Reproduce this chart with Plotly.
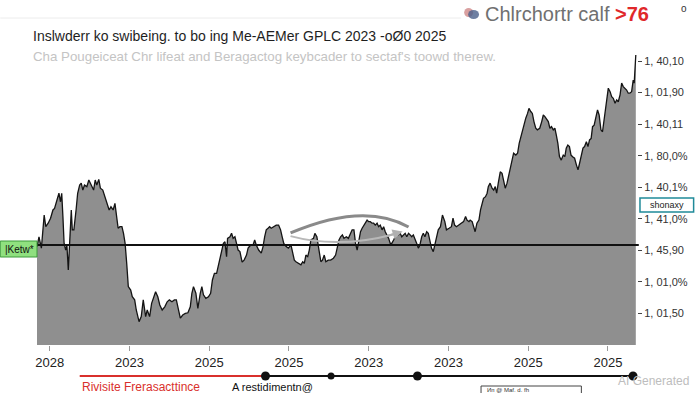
import plotly.graph_objects as go

# ---------------- data ----------------
x_ticks = [0, 20, 40, 60, 80, 100, 120, 140]
x_labels = ["2028", "2023", "2025", "2025", "2023", "2023", "2025", "2025"]
y_ticks = [10, 20, 30, 40, 50, 60, 70, 80, 90]
y_labels = ["1, 01,50", "1, 01,0%", "1, 45,90", "1, 41,0%", "1, 40,1%",
            "1, 80,0%", "1, 40,11", "1, 01,90", "1, 40,10"]
threshold = 31.7

x_vals = [-3.2, -2.7, -2.1, -1.7, -1.4, -1.0, -0.4, 0.2, 0.8, 1.2, 1.7, 2.1, 2.3, 2.7, 3.0, 3.3, 3.6, 4.0, 4.3, 4.65,
          5.0, 5.4, 5.65, 6.05, 6.6, 7.0, 7.5, 7.9, 8.3, 8.7, 9.3, 9.8, 10.4, 11.0, 11.4, 11.8, 12.3, 12.7, 13.3, 13.9,
          14.35, 14.9, 15.35, 15.9, 16.35, 16.75, 17.15, 17.6, 18.1, 18.5, 18.9, 19.3, 19.7, 20.3, 20.7, 21.3, 21.7, 22.4, 22.95, 23.45,
          24.05, 24.45, 25.05, 25.55, 26.1, 26.55, 27.1, 27.6, 28.2, 28.85, 29.45, 30.0, 30.65, 31.25, 31.75, 32.35, 32.75, 33.35, 34.0, 34.65,
          35.25, 35.65, 36.05, 36.65, 37.15, 37.75, 38.15, 38.55, 39.15, 39.8, 40.35, 40.8, 41.3, 41.85, 42.45, 42.95, 43.55, 43.95, 44.35, 44.6,
          45.2, 45.6, 46.0, 46.45, 46.85, 47.25, 47.7, 48.25, 48.75, 49.35, 49.75, 50.4, 51.0, 51.4, 51.8, 52.4, 53.05, 53.5, 53.9, 54.3,
          54.75, 55.15, 55.55, 56.2, 56.8, 57.4, 57.9, 58.3, 58.7, 59.3, 59.85, 60.5, 60.95, 61.35, 61.75, 62.35, 63.0, 63.45, 63.85, 64.25,
          64.7, 65.1, 65.5, 66.15, 66.5, 67.0, 67.35, 67.65, 68.0, 68.4, 68.85, 69.25, 69.85, 70.45, 71.15, 71.7, 72.15, 72.55, 72.95, 73.4,
          73.8, 74.4, 74.9, 75.45, 75.85, 76.3, 76.7, 77.1, 77.55, 77.95, 78.35, 78.8, 79.2, 79.6, 80.0, 80.4, 80.85, 81.25, 81.65, 82.1,
          82.5, 82.9, 83.35, 83.75, 84.15, 84.6, 85.0, 85.4, 85.8, 86.25, 86.65, 87.05, 87.5, 87.9, 88.3, 88.75, 89.15, 89.55, 90.0, 90.4,
          90.8, 91.2, 91.6, 92.05, 92.45, 92.85, 93.3, 93.7, 94.1, 94.55, 94.95, 95.35, 95.75, 96.2, 96.6, 97.0, 97.45, 98.0, 98.5, 99.1,
          99.5, 100.15, 100.75, 101.15, 101.55, 102.0, 102.65, 103.25, 103.8, 104.3, 104.65, 105.15, 105.45, 105.95, 106.3, 106.7, 107.15, 107.65, 108.05, 108.45,
          108.8, 109.3, 109.7, 110.0, 110.45, 110.95, 111.35, 111.75, 112.1, 112.5, 113.0, 113.45, 113.85, 114.25, 114.7, 115.1, 115.5, 115.9, 116.35, 116.9,
          117.35, 117.75, 118.15, 118.6, 119.0, 119.4, 119.85, 120.2, 120.65, 121.05, 121.45, 121.9, 122.3, 122.9, 123.4, 123.8, 124.2, 124.65, 125.05, 125.45,
          125.85, 126.3, 126.7, 127.05, 127.45, 127.85, 128.3, 128.8, 129.2, 129.55, 129.95, 130.35, 130.75, 131.15, 131.65, 132.1, 132.5, 132.9, 133.35, 133.75,
          134.15, 134.6, 135.0, 135.4, 135.8, 136.15, 136.55, 137.0, 137.4, 137.8, 138.25, 138.65, 139.05, 139.5, 139.9, 140.1, 140.55, 140.95, 141.35, 141.8,
          142.2, 142.6, 143.05, 143.45, 143.85, 144.3, 144.7, 145.1, 145.5, 145.95, 146.35, 146.6, 146.8, 147.0]

y_vals = [31.2, 34.3, 30.7, 36.5, 41.2, 37.5, 38.6, 40.2, 42.8, 43.3, 45.4, 47.0, 48.1, 45.4, 48.1, 40.7, 32.2, 30.1, 31.7, 23.8,
          33.3, 42.8, 36.5, 36.5, 42.8, 48.1, 50.7, 51.3, 49.1, 50.7, 50.2, 52.3, 50.7, 49.1, 52.3, 50.7, 52.5, 49.7, 49.1, 47.0,
          45.4, 42.8, 43.8, 42.8, 44.9, 40.7, 37.0, 37.5, 37.5, 35.4, 32.2, 25.9, 18.5, 17.4, 15.3, 14.3, 11.1, 7.4, 9.0, 14.3,
          9.0, 11.1, 9.0, 13.2, 15.3, 16.9, 15.3, 12.7, 11.1, 12.1, 13.7, 14.3, 13.7, 14.3, 14.3, 11.1, 8.5, 9.5, 10.0, 10.2,
          12.1, 16.4, 18.5, 16.4, 11.6, 16.4, 18.5, 15.9, 14.8, 15.3, 16.4, 20.6, 22.7, 22.7, 25.9, 28.0, 32.2, 32.7, 28.0, 33.8,
          34.3, 35.4, 33.8, 34.3, 31.7, 30.1, 29.6, 26.3, 26.9, 28.5, 30.7, 31.7, 31.7, 33.3, 31.7, 30.1, 29.1, 31.2, 34.3, 36.5,
          37.0, 37.5, 37.0, 37.5, 38.0, 38.0, 36.5, 34.3, 32.2, 31.2, 30.7, 31.7, 29.6, 26.9, 26.4, 25.9, 25.4, 26.4, 25.9, 28.5,
          28.0, 30.1, 33.3, 33.8, 35.4, 34.3, 31.7, 29.6, 26.4, 26.9, 28.5, 26.4, 26.9, 26.9, 27.5, 28.5, 31.7, 33.3, 34.3, 34.9,
          33.8, 34.3, 33.8, 35.4, 36.5, 36.5, 32.2, 30.1, 33.3, 35.9, 37.0, 38.0, 39.1, 39.6, 39.1, 39.1, 38.6, 38.6, 38.0, 38.6,
          37.5, 38.0, 36.5, 37.5, 35.9, 34.9, 33.8, 32.2, 32.2, 33.3, 34.3, 35.4, 34.9, 35.4, 34.3, 34.9, 35.4, 34.3, 35.4, 34.9,
          34.3, 34.9, 33.3, 32.2, 30.7, 31.7, 34.3, 35.4, 34.3, 35.9, 35.4, 33.3, 30.7, 29.6, 31.7, 34.2, 36.5, 37.5, 41.2, 39.1,
          36.5, 37.0, 37.5, 40.2, 38.0, 37.5, 38.0, 38.6, 39.1, 40.7, 39.6, 39.1, 39.6, 39.1, 37.5, 35.9, 38.6, 39.6, 42.8, 44.9,
          46.5, 47.0, 48.1, 50.2, 51.3, 49.7, 49.1, 50.2, 48.1, 51.3, 54.9, 54.4, 52.3, 49.7, 51.3, 53.9, 56.5, 58.6, 60.8, 60.2,
          60.8, 63.9, 66.0, 67.6, 70.3, 71.9, 73.4, 75.0, 74.0, 73.4, 70.8, 68.7, 68.2, 68.7, 70.8, 72.9, 72.4, 71.3, 70.8, 68.7,
          69.2, 68.2, 68.7, 66.6, 63.9, 59.7, 58.6, 60.2, 59.7, 62.4, 63.4, 62.9, 60.2, 59.7, 59.2, 57.1, 55.5, 57.6, 60.8, 62.4,
          62.9, 64.4, 62.9, 65.0, 65.5, 69.2, 69.7, 71.9, 74.5, 72.9, 68.2, 67.6, 71.3, 75.5, 78.2, 81.4, 80.3, 78.7, 78.2, 76.6,
          77.7, 77.1, 79.3, 83.0, 81.9, 81.4, 80.8, 79.8, 79.8, 80.3, 84.0, 83.0, 88.2, 91.9]

# ---------------- layout helpers (page pixels -> paper) ----------------
W, H = 700, 393
ML, MR, MT, MB = 37, 59, 50, 48
PW, PH = W - ML - MR, H - MT - MB


def px(x):
    return (x - ML) / PW


def py(y):
    return (H - MB - y) / PH


SANS = "Liberation Sans, Arial, sans-serif"

fig = go.Figure()
fig.add_trace(go.Scatter(
    x=x_vals, y=y_vals, mode="lines", fill="tozeroy",
    fillcolor="#8f8f8f", line=dict(color="#141414", width=1.3),
    hoverinfo="skip", showlegend=False))

shapes = []
annotations = []

# threshold line
shapes.append(dict(type="line", xref="paper", yref="y", x0=0, x1=1.003,
                   y0=threshold, y1=threshold, line=dict(color="#111", width=2)))

# swirl arrow
shapes.append(dict(type="path", xref="x", yref="y",
                   path="M 60.4,35.5 Q 78.8,45.4 90,37.4",
                   line=dict(color="#8a8a8a", width=3)))
shapes.append(dict(type="path", xref="x", yref="y",
                   path="M 60.4,34.5 Q 72.5,30.4 86.6,35.2",
                   line=dict(color="#b8b8b8", width=2)))
annotations.append(dict(x=88.5, y=36.0, ax=84.0, ay=34.3, xref="x", yref="y",
                        axref="x", ayref="y", showarrow=True, arrowhead=2,
                        arrowsize=1, arrowwidth=2, arrowcolor="#b0b0b0", text=""))

# left green tag
shapes.append(dict(type="rect", xref="paper", yref="paper",
                   x0=px(0), x1=px(37), y0=py(257), y1=py(241),
                   fillcolor="#8fe07f", line=dict(color="#3d9a3d", width=1), layer="above"))
annotations.append(dict(x=px(3), y=py(249), xref="paper", yref="paper", xanchor="left",
                        yanchor="middle", text="|Ketw*", showarrow=False,
                        font=dict(family=SANS, size=10, color="#111")))

# right teal tag
shapes.append(dict(type="rect", xref="paper", yref="paper",
                   x0=px(644), x1=px(698), y0=py(212), y1=py(198),
                   fillcolor="white", line=dict(color="#1f8a99", width=1.5), layer="above"))
annotations.append(dict(x=px(671), y=py(205), xref="paper", yref="paper", xanchor="center",
                        yanchor="middle", text="shonaxy", showarrow=False,
                        font=dict(family=SANS, size=9, color="#222")))

# title / subtitle
annotations.append(dict(x=px(31), y=py(36), xref="paper", yref="paper", xanchor="left",
                        yanchor="middle", showarrow=False,
                        text="Inslwderr ko swibeing. to bo ing Me-AEMer GPLC 2023 -oØ0 2025",
                        font=dict(family=SANS, size=14, color="#1e1e1e")))
annotations.append(dict(x=px(31), y=py(57), xref="paper", yref="paper", xanchor="left",
                        yanchor="middle", showarrow=False,
                        text="Cha Pougeiceat Chr lifeat and Beragactog keybcader to sectaf's toowd therew.",
                        font=dict(family=SANS, size=13.3, color="#c4c4c4")))

# faint top rule
shapes.append(dict(type="line", xref="paper", yref="paper", x0=px(0), x1=px(464),
                   y0=py(18), y1=py(18), line=dict(color="#ececec", width=1)))

# logo
shapes.append(dict(type="circle", xref="paper", yref="paper",
                   x0=px(467), x1=px(476), y0=py(17), y1=py(8),
                   fillcolor="#d9a0a0", line=dict(width=0)))
shapes.append(dict(type="circle", xref="paper", yref="paper",
                   x0=px(471), x1=px(482), y0=py(19), y1=py(10),
                   fillcolor="#4a5f8a", line=dict(width=0), opacity=0.8))
annotations.append(dict(x=px(486), y=py(14), xref="paper", yref="paper", xanchor="left",
                        yanchor="middle", showarrow=False,
                        text="<span style='color:#707070'>Chlrchortr calf </span>"
                             "<span style='color:#e0282a'><b>&gt;76</b></span>",
                        font=dict(family=SANS, size=20, color="#707070")))
annotations.append(dict(x=px(683), y=py(9), xref="paper", yref="paper", xanchor="left",
                        yanchor="middle", showarrow=False, text="o",
                        font=dict(family=SANS, size=10, color="#333")))

# bottom timeline
tl_y = py(376)
shapes.append(dict(type="line", xref="paper", yref="paper", x0=px(80), x1=px(267),
                   y0=tl_y, y1=tl_y, line=dict(color="#d9302c", width=2)))
shapes.append(dict(type="line", xref="paper", yref="paper", x0=px(267), x1=px(637),
                   y0=tl_y, y1=tl_y, line=dict(color="#111", width=2)))
for cx, r in [(267, 4.5), (333, 3.5), (420, 4.5), (637, 4.5)]:
    shapes.append(dict(type="circle", xref="paper", yref="paper",
                       xsizemode="pixel", ysizemode="pixel",
                       xanchor=px(cx), yanchor=tl_y, x0=-r, x1=r, y0=-r, y1=r,
                       fillcolor="#111", line=dict(width=0)))

annotations.append(dict(x=px(80), y=py(387), xref="paper", yref="paper", xanchor="left",
                        yanchor="middle", showarrow=False, text="Rivisite Frerasacttince",
                        font=dict(family=SANS, size=12, color="#d9302c")))
annotations.append(dict(x=px(231), y=py(387), xref="paper", yref="paper", xanchor="left",
                        yanchor="middle", showarrow=False, text="A restidimentn@",
                        font=dict(family=SANS, size=11, color="#111")))
shapes.append(dict(type="rect", xref="paper", yref="paper",
                   x0=px(484), x1=px(585), y0=py(400), y1=py(386),
                   fillcolor="white", line=dict(color="#444", width=1)))
annotations.append(dict(x=px(488), y=py(389.5), xref="paper", yref="paper", xanchor="left",
                        yanchor="middle", showarrow=False, text="Ип @ Maf. d. fh",
                        font=dict(family=SANS, size=6, color="#333")))
annotations.append(dict(x=px(695), y=py(381), xref="paper", yref="paper", xanchor="right",
                        yanchor="middle", showarrow=False, text="AI Generated",
                        font=dict(family=SANS, size=12, color="#bdbdbd")))

fig.update_layout(
    width=W, height=H,
    margin=dict(l=ML, r=MR, t=MT, b=MB, pad=0),
    paper_bgcolor="white", plot_bgcolor="white",
    showlegend=False,
    shapes=shapes, annotations=annotations,
    xaxis=dict(range=[-3.2, 147.3], tickmode="array", tickvals=x_ticks, ticktext=x_labels,
               ticks="outside", ticklen=5, tickcolor="#999", showgrid=False, zeroline=False,
               showline=False, tickfont=dict(family=SANS, size=13, color="#222")),
    yaxis=dict(range=[0, 93.5], side="right", tickmode="array", tickvals=y_ticks, ticktext=y_labels,
               ticks="outside", ticklen=4, tickcolor="#444", showgrid=False, zeroline=False,
               showline=False, tickfont=dict(family=SANS, size=11, color="#333")),
)

fig.write_html("out.html", config={"displayModeBar": False},
               post_script="document.body.style.margin='0';document.body.style.overflow='hidden';")
